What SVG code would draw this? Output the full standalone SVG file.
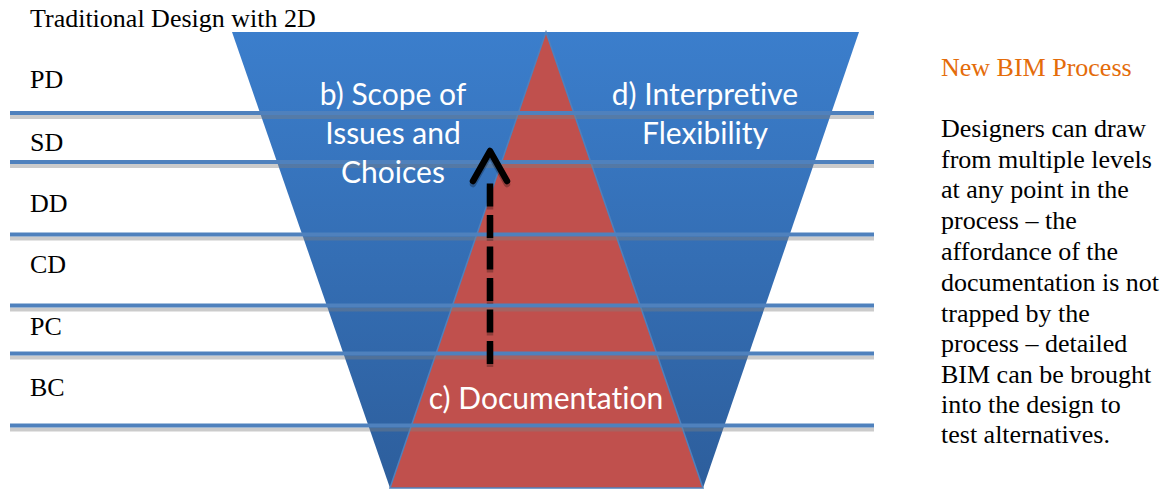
<svg xmlns="http://www.w3.org/2000/svg" width="1176" height="490" viewBox="0 0 1176 490">
  <defs>
    <linearGradient id="funnelFill" x1="0" y1="32" x2="0" y2="488" gradientUnits="userSpaceOnUse">
      <stop offset="0" stop-color="#3b7ecc"/>
      <stop offset="1" stop-color="#2d5e9c"/>
    </linearGradient>
  </defs>
  <style>
    .serif { font-family: "Liberation Serif", "Times New Roman", serif; font-size: 26px; fill: #000; }
    .orange { fill: #e46c0a; }
    .white { font-family: Lato, "Open Sans", sans-serif; font-size: 30px; fill: #fff; text-anchor: middle; font-variant-ligatures: none; }
    .band { stroke: #4f81bd; stroke-width: 4; }
    .bandShadow { stroke: #808080; stroke-width: 4; opacity: 0.4; }
    .arrow { fill: none; stroke: #000; stroke-width: 6.5; }
  </style>

  <!-- title -->
  <text class="serif" x="30" y="27">Traditional Design with 2D</text>

  <!-- funnel: scope of issues narrowing towards construction -->
  <g id="funnel">
    <polygon points="232,32 859,32 703,488 390,488" fill="url(#funnelFill)"/>
  </g>

  <!-- documentation triangle widening towards construction -->
  <g id="documentation">
    <polygon points="546,32 703,488 390,488" fill="#c0504d" stroke="#4f81bd" stroke-width="1.5"/>
  </g>

  <!-- phase separators -->
  <g id="phase-bands">
    <line class="bandShadow" x1="10" y1="117" x2="874" y2="117"/>
    <line class="band" x1="10" y1="113" x2="874" y2="113"/>
    <line class="bandShadow" x1="10" y1="166" x2="874" y2="166"/>
    <line class="band" x1="10" y1="162" x2="874" y2="162"/>
    <line class="bandShadow" x1="10" y1="238.5" x2="874" y2="238.5"/>
    <line class="band" x1="10" y1="234.5" x2="874" y2="234.5"/>
    <line class="bandShadow" x1="10" y1="309.5" x2="874" y2="309.5"/>
    <line class="band" x1="10" y1="305.5" x2="874" y2="305.5"/>
    <line class="bandShadow" x1="10" y1="357.5" x2="874" y2="357.5"/>
    <line class="band" x1="10" y1="353.5" x2="874" y2="353.5"/>
    <line class="bandShadow" x1="10" y1="429.5" x2="874" y2="429.5"/>
    <line class="band" x1="10" y1="425.5" x2="874" y2="425.5"/>
  </g>

  <!-- phase labels -->
  <g id="phase-labels">
    <text class="serif" x="30" y="88">PD</text>
    <text class="serif" x="30" y="151">SD</text>
    <text class="serif" x="30" y="212">DD</text>
    <text class="serif" x="30" y="273">CD</text>
    <text class="serif" x="30" y="335">PC</text>
    <text class="serif" x="30" y="396">BC</text>
  </g>

  <!-- region labels -->
  <g id="label-scope">
    <text class="white" x="393" y="105">b) Scope of</text>
    <text class="white" x="393" y="144">Issues and</text>
    <text class="white" x="393" y="183">Choices</text>
  </g>
  <g id="label-flexibility">
    <text class="white" x="705" y="105">d) Interpretive</text>
    <text class="white" x="705" y="144">Flexibility</text>
  </g>
  <g id="label-documentation">
    <text class="white" x="546" y="409">c) Documentation</text>
  </g>

  <!-- upward dashed arrow -->
  <g id="connectors">
    <g transform="translate(0,3)" opacity="0.25">
      <line class="arrow" x1="490" y1="364" x2="490" y2="182" stroke-dasharray="23 8.5"/>
      <path class="arrow" d="M473,181 L490,151 L507,181" stroke-linecap="round" stroke-linejoin="round"/>
    </g>
    <line class="arrow" x1="490" y1="364" x2="490" y2="182" stroke-dasharray="23 8.5"/>
    <path class="arrow" d="M473,181 L490,151 L507,181" stroke-linecap="round" stroke-linejoin="round"/>
  </g>

  <!-- side note -->
  <g id="note">
    <text class="serif orange" x="941" y="76">New BIM Process</text>
    <text class="serif" x="941" y="137">Designers can draw</text>
    <text class="serif" x="941" y="168">from multiple levels</text>
    <text class="serif" x="941" y="198">at any point in the</text>
    <text class="serif" x="941" y="229">process – the</text>
    <text class="serif" x="941" y="260">affordance of the</text>
    <text class="serif" x="941" y="291">documentation is not</text>
    <text class="serif" x="941" y="322">trapped by the</text>
    <text class="serif" x="941" y="352">process – detailed</text>
    <text class="serif" x="941" y="383">BIM can be brought</text>
    <text class="serif" x="941" y="413">into the design to</text>
    <text class="serif" x="941" y="443">test alternatives.</text>
  </g>
</svg>
